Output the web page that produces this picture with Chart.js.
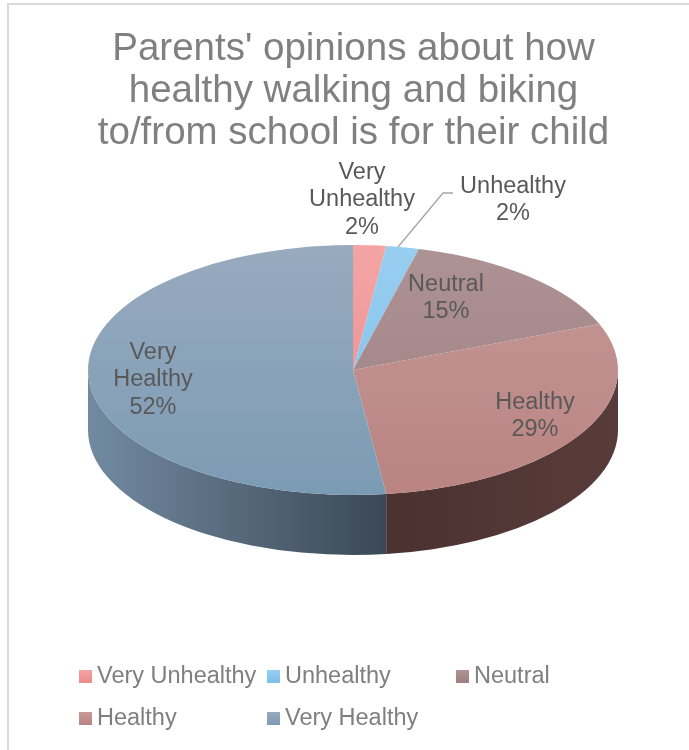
<!DOCTYPE html>
<html>
<head>
<meta charset="utf-8">
<script src="https://cdn.jsdelivr.net/npm/chart.js@4.4.1/dist/chart.umd.min.js"></script>
<style>
    html, body { margin: 0; padding: 0; background: #fff; }
    #wrap { width: 689px; height: 750px; }
</style>
</head>
<body>
<div id="wrap"><canvas id="pieChart" width="689" height="750"></canvas></div>
<script>
// --- Data ---
const categories = ['Very Unhealthy', 'Unhealthy', 'Neutral', 'Healthy', 'Very Healthy'];
const shares = [2, 2, 15, 29, 52];
const sliceNames = [['Very', 'Unhealthy'], ['Unhealthy'], ['Neutral'], ['Healthy'], ['Very', 'Healthy']];
const titleLines = ["Parents' opinions about how", 'healthy walking and biking', 'to/from school is for their child'];

// Colours: top face (top -> bottom), wall (left -> right)
const topColors = [
    ['#f4a4a4', '#e98b8b'],
    ['#98cef0', '#7cbfe9'],
    ['#ae9394', '#9e7e7f'],
    ['#c69997', '#b98482'],
    ['#98aabe', '#7b9bb4']
];
const wallColors = [
    ['#b86a6a', '#b06464'],
    ['#5f95b8', '#5a8db0'],
    ['#6a5253', '#604748'],
    ['#4a3230', '#583c3a'],
    ['#728aa1', '#3b4855']
];

const FONT = "'Liberation Sans', Arial, sans-serif";

// Where the flattened pie sits on the page
const PIE = { cx: 353, cy: 370, rx: 265, ry: 125, depth: 60 };

// Label block centres and legend slots (page pixels)
const labelPos = [[362, 200], [513, 200], [446, 298], [535, 416], [153, 380]];
const legendSlots = [[79, 670], [267, 670], [456, 670], [79, 712], [267, 712]];

const total = shares.reduce((a, b) => a + b, 0);

const pie3d = {
    id: 'pie3d',
    beforeDraw(chart) {
        const ctx = chart.ctx;
        ctx.save();
        ctx.strokeStyle = '#d9d9d9';
        ctx.lineWidth = 2;
        ctx.strokeRect(8, 4, 1000, 1000);
        ctx.restore();
    },
    beforeDatasetsDraw(chart) {
        const ctx = chart.ctx;
        const meta = chart.getDatasetMeta(0);
        const first = meta.data[0];
        const R = first.outerRadius, ox = first.x, oy = first.y;
        const sy = PIE.ry / R;
        const d = PIE.depth / sy;

        ctx.save();
        ctx.translate(PIE.cx, PIE.cy);
        ctx.scale(PIE.rx / R, sy);
        ctx.translate(-ox, -oy);

        // front walls (angles 0..PI are the lower half)
        meta.data.forEach((arc, i) => {
            const a = Math.max(arc.startAngle, 0);
            const b = Math.min(arc.endAngle, Math.PI);
            if (b <= a) return;
            const xl = ox + R * Math.cos(b), xr = ox + R * Math.cos(a);
            const g = ctx.createLinearGradient(xl, 0, xr, 0);
            g.addColorStop(0, wallColors[i][0]);
            g.addColorStop(1, wallColors[i][1]);
            ctx.beginPath();
            ctx.arc(ox, oy, R, a, b);
            ctx.arc(ox, oy + d, R, b, a, true);
            ctx.closePath();
            ctx.fillStyle = g;
            ctx.fill();
        });
    },
    afterDatasetsDraw(chart) {
        const ctx = chart.ctx;
        ctx.restore();

        // data labels
        ctx.save();
        ctx.font = '23.5px ' + FONT;
        ctx.fillStyle = '#595959';
        ctx.textAlign = 'center';
        ctx.textBaseline = 'middle';
        const lh = 27.5;
        shares.forEach((v, i) => {
            const lines = sliceNames[i].concat([Math.round(v / total * 100) + '%']);
            const [x, y] = labelPos[i];
            const y0 = y - (lines.length - 1) * lh / 2;
            lines.forEach((t, k) => ctx.fillText(t, x, y0 + k * lh));
        });

        // leader line for Unhealthy
        ctx.strokeStyle = '#a6a6a6';
        ctx.lineWidth = 1.3;
        ctx.beginPath();
        ctx.moveTo(398, 247);
        ctx.lineTo(443, 193);
        ctx.lineTo(453, 193);
        ctx.stroke();

        // legend
        ctx.textAlign = 'left';
        categories.forEach((name, i) => {
            const [x, y] = legendSlots[i];
            const g = ctx.createLinearGradient(0, y, 0, y + 13);
            g.addColorStop(0, topColors[i][0]);
            g.addColorStop(1, topColors[i][1]);
            ctx.fillStyle = g;
            ctx.fillRect(x, y, 13, 13);
            ctx.fillStyle = '#7f7f7f';
            ctx.fillText(name, x + 18, y + 7);
        });
        ctx.restore();
    }
};

new Chart(document.getElementById('pieChart'), {
    type: 'pie',
    data: {
        labels: categories,
        datasets: [{
            data: shares,
            borderWidth: 0,
            clip: false,
            backgroundColor: (c) => {
                const i = c.dataIndex || 0;
                const area = c.chart.chartArea;
                if (!area) return topColors[i][0];
                const cy = (area.top + area.bottom) / 2;
                const r = Math.min(area.right - area.left, area.bottom - area.top) / 2;
                const g = c.chart.ctx.createLinearGradient(0, cy - r, 0, cy + r);
                g.addColorStop(0, topColors[i][0]);
                g.addColorStop(1, topColors[i][1]);
                return g;
            }
        }]
    },
    options: {
        responsive: false,
        animation: false,
        devicePixelRatio: 1,
        layout: { padding: { left: 18, right: 0, top: 0, bottom: 100 } },
        plugins: {
            legend: { display: false },
            tooltip: { enabled: false },
            title: {
                display: true,
                text: titleLines,
                color: '#808080',
                font: { family: FONT, size: 38.5, weight: 'normal', lineHeight: 1.09 },
                padding: { top: 28, bottom: 10 }
            }
        }
    },
    plugins: [pie3d]
});
</script>
</body>
</html>
